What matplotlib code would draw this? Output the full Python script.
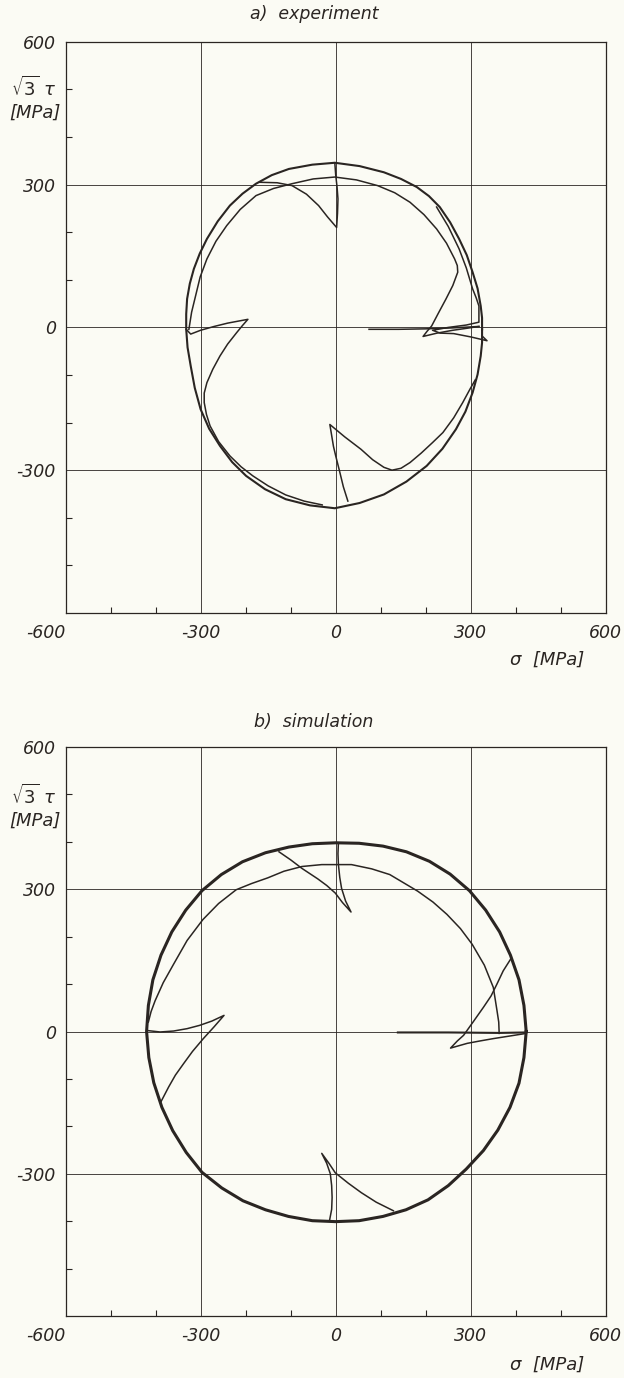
import matplotlib.pyplot as plt

# ---- a) experiment: sigma / sqrt(3)*tau paths in MPa ----
exp_load_x = [74, 140, 200, 260, 318]
exp_load_y = [-4, -4, -3, -1, 2]

exp_outer_x = [325, 325, 322, 315, 304, 291, 274, 254, 231, 207, 180, 145, 107, 53, -2,
               -52, -104, -142, -177, -207, -235, -262, -286, -302, -315, -324, -330, -332,
               -332, -329, -322, -313, -300, -281, -257, -230, -199, -157, -111, -57, -2,
               53, 107, 157, 202, 237, 267, 288, 304, 315, 322, 325, 325]
exp_outer_y = [-4, 20, 45, 82, 116, 152, 186, 221, 253, 276, 295, 312, 326, 339, 346,
               342, 333, 320, 302, 281, 256, 223, 186, 155, 123, 92, 60, 28,
               -4, -42, -81, -127, -172, -213, -249, -283, -312, -340, -361, -374, -380,
               -369, -351, -324, -291, -255, -214, -177, -137, -99, -60, -32, -4]

# first cycle: right-hand reversal, then the smaller loop up and over to the left
exp_first_x = [318, 290, 260, 225, 194, 203, 213, 228, 245, 260, 271, 270, 264, 246, 224, 196,
               165, 131, 93, 46, -2, -50, -97, -138, -177, -212, -242, -266, -286, -301,
               -311, -320, -326]
exp_first_y = [2, -2, -6, -12, -19, -8, 3, 30, 60, 88, 116, 130, 144, 177, 207, 237,
               263, 283, 298, 310, 316, 312, 302, 292, 277, 248, 214, 181, 144, 106,
               67, 32, -4]

exp_right_x = [325, 336, 300, 262, 232, 215, 250, 290, 318, 318, 312, 304, 290, 274, 250, 224]
exp_right_y = [-18, -28, -20, -13, -12, -6, 0, 5, 11, 45, 62, 81, 125, 165, 212, 253]

exp_top_x = [-2, 0, 3, 5, 4, 2, -18, -38, -65, -97, -130, -169]
exp_top_y = [346, 320, 295, 270, 240, 210, 232, 256, 280, 298, 304, 305]

exp_left_x = [-332, -322, -300, -270, -240, -195, -207, -220, -240, -257, -273, -286, -292,
              -292, -287, -279, -260, -235, -210, -184, -150, -111, -70, -30]
exp_left_y = [-4, -14, -6, 2, 9, 17, 4, -11, -35, -60, -88, -116, -138,
              -158, -183, -207, -240, -270, -293, -312, -333, -352, -365, -373]

exp_bottom_x = [27, 17, 8, 0, -5, -13, 20, 56, 82, 107, 125, 145, 165, 190, 215, 238, 262,
                282, 298, 310]
exp_bottom_y = [-365, -335, -300, -270, -250, -204, -230, -256, -278, -294, -300, -296, -284,
                -264, -242, -221, -190, -158, -130, -110]

# ---- b) simulation ----
sim_load_x = [138, 250, 363, 423]
sim_load_y = [-2, -2, -3, -2]

sim_inner_x = [363, 362, 358, 350, 330, 303, 277, 247, 216, 182, 120, 80, 35, -31, -75,
               -115, -151, -187, -221, -260, -295, -330, -360, -383, -401, -410, -416]
sim_inner_y = [-4, 20, 45, 93, 140, 184, 217, 247, 273, 296, 331, 343, 352, 352, 348,
               338, 324, 312, 299, 270, 236, 192, 142, 103, 65, 42, 20]

sim_outer_x = [423, 418, 407, 388, 364, 333, 297, 254, 208, 157, 105, 52, 0,
               -52, -104, -156, -207, -254, -297, -333, -364, -388, -406, -416, -420,
               -415, -404, -386, -362, -332, -297, -253, -206, -156, -105, -52, 0,
               52, 105, 156, 205, 250, 290, 328, 360, 387, 407, 418, 423]
sim_outer_y = [0, 55, 109, 161, 210, 256, 297, 332, 359, 379, 391, 397, 398,
               396, 389, 377, 358, 331, 297, 256, 210, 161, 109, 55, 0,
               -55, -108, -160, -209, -255, -297, -330, -357, -376, -390, -399, -401,
               -399, -390, -376, -355, -325, -290, -251, -208, -160, -109, -55, 0]

sim_top_x = [6, 5, 6, 9, 13, 22, 34, 15, -1, -20, -40, -75, -100, -126]
sim_top_y = [398, 375, 352, 325, 302, 275, 252, 272, 292, 308, 322, 344, 362, 379]
sim_left_x = [-418, -390, -360, -330, -302, -275, -248, -270, -294, -318, -338, -356, -371, -388]
sim_left_y = [2, -1, 1, 6, 13, 22, 34, 10, -15, -42, -68, -92, -117, -148]
sim_bottom_x = [-14, -9, -8, -9, -12, -20, -31, -15, -1, 28, 57, 90, 128]
sim_bottom_y = [-400, -375, -350, -325, -300, -278, -257, -278, -298, -320, -340, -360, -378]
sim_right_x = [423, 390, 350, 320, 292, 255, 270, 284, 305, 328, 345, 358, 372, 388]
sim_right_y = [-4, -9, -15, -20, -25, -35, -20, -8, 20, 51, 75, 100, 128, 152]

xticks = [-600, -300, 0, 300, 600]
xtick_labels = ['-600', '-300', '0', '300', '600']
yticks = [-300, 0, 300, 600]
ytick_labels = ['-300', '0', '300', '600']
minor = [-500, -400, -200, -100, 100, 200, 400, 500]

ink = '#2a2522'
paper = '#fbfbf4'
font = {'family': 'DejaVu Sans', 'style': 'italic'}


def setup(ax):
    ax.set_facecolor(paper)
    ax.set_xlim(-600, 600)
    ax.set_ylim(-600, 600)
    ax.set_xticks(xticks)
    ax.set_yticks(yticks)
    ax.set_xticklabels(xtick_labels, fontdict=font, fontsize=12.5, color=ink)
    ax.set_yticklabels(ytick_labels, fontdict=font, fontsize=12.5, color=ink)
    ax.get_xticklabels()[0].set_horizontalalignment('right')
    ax.set_xticks(minor, minor=True)
    ax.set_yticks(minor, minor=True)
    ax.tick_params(which='major', length=0)
    ax.tick_params(axis='y', which='major', pad=7)
    ax.tick_params(axis='x', which='major', pad=8)
    ax.tick_params(which='minor', direction='in', length=4, width=0.8, color=ink)
    for v in [-300, 0, 300]:
        ax.axvline(v, color=ink, lw=0.6, zorder=1)
        ax.axhline(v, color=ink, lw=0.6, zorder=1)
    for s in ax.spines.values():
        s.set_color(ink)
        s.set_linewidth(0.9)


fig = plt.figure(figsize=(6.24, 13.78), dpi=100)
fig.patch.set_facecolor(paper)

ax1 = fig.add_axes([0.105, 0.5552, 0.866, 0.4144])
ax2 = fig.add_axes([0.105, 0.0450, 0.866, 0.4129])
setup(ax1)
setup(ax2)

lw = 1.1
ax1.plot(exp_outer_x, exp_outer_y, color=ink, lw=1.5, zorder=3)
ax1.plot(exp_load_x, exp_load_y, color=ink, lw=lw, zorder=3)
ax1.plot(exp_first_x, exp_first_y, color=ink, lw=lw, zorder=3)
ax1.plot(exp_right_x, exp_right_y, color=ink, lw=lw, zorder=3)
ax1.plot(exp_top_x, exp_top_y, color=ink, lw=lw, zorder=3)
ax1.plot(exp_left_x, exp_left_y, color=ink, lw=lw, zorder=3)
ax1.plot(exp_bottom_x, exp_bottom_y, color=ink, lw=lw, zorder=3)

ax2.plot(sim_outer_x, sim_outer_y, color=ink, lw=2.2, zorder=3)
ax2.plot(sim_load_x, sim_load_y, color=ink, lw=1.5, zorder=3)
ax2.plot(sim_inner_x, sim_inner_y, color=ink, lw=lw, zorder=3)
ax2.plot(sim_top_x, sim_top_y, color=ink, lw=lw, zorder=3)
ax2.plot(sim_left_x, sim_left_y, color=ink, lw=lw, zorder=3)
ax2.plot(sim_bottom_x, sim_bottom_y, color=ink, lw=lw, zorder=3)
ax2.plot(sim_right_x, sim_right_y, color=ink, lw=lw, zorder=3)

# titles and axis captions, placed in figure pixels
H = 1378.0
W = 624.0
for title, ypix in [('a)  experiment', 14), ('b)  simulation', 722)]:
    fig.text(314 / W, 1 - ypix / H, title, fontdict=font, fontsize=12.5, color=ink,
             ha='center', va='center')
for ypix in [88, 796]:
    fig.text(34 / W, 1 - ypix / H, r'$\sqrt{3}\ \tau$', fontsize=13, color=ink,
             ha='center', va='center')
    fig.text(35 / W, 1 - (ypix + 25) / H, '[MPa]', fontdict=font, fontsize=13,
             color=ink, ha='center', va='center')
for ypix in [660, 1365]:
    fig.text(547 / W, 1 - ypix / H, 'σ  [MPa]', fontdict=font, fontsize=13,
             color=ink, ha='center', va='center')

fig.savefig('out.png', dpi=100, facecolor=paper)
